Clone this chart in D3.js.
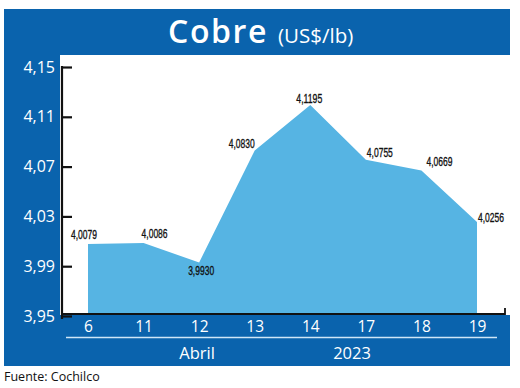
<!DOCTYPE html>
<html>
<head>
<meta charset="utf-8">
<script src="https://cdn.jsdelivr.net/npm/d3@7"></script>
<style>
  html, body { margin: 0; padding: 0; background: #fff; }
  svg { display: block; }
</style>
</head>
<body>
<svg id="chart" width="520" height="388"></svg>
<script>
// ---- data ----
const categories = ["6", "11", "12", "13", "14", "17", "18", "19"];
const values = [4.0079, 4.0086, 3.9930, 4.0830, 4.1195, 4.0755, 4.0669, 4.0256];
const valueLabels = ["4,0079", "4,0086", "3,9930", "4,0830", "4,1195", "4,0755", "4,0669", "4,0256"];
const yTicks = [3.95, 3.99, 4.03, 4.07, 4.11, 4.15];
const yTickLabels = ["3,95", "3,99", "4,03", "4,07", "4,11", "4,15"];
const periodLabels = ["Abril", "2023"];
const title = "Cobre";
const unit = "(US$/lb)";
const source = "Fuente: Cochilco";

// label placement (style only)
const labelPlace = [
  { anchor: "middle", dx: -4, dy: -5 },
  { anchor: "middle", dx: 11, dy: -5 },
  { anchor: "middle", dx: 2, dy: 13 },
  { anchor: "end", dx: 0, dy: -2 },
  { anchor: "middle", dx: -1, dy: -2 },
  { anchor: "start", dx: 1, dy: -3 },
  { anchor: "start", dx: 5, dy: -4 },
  { anchor: "start", dx: 1, dy: 0 }
];

const DARK = "#0a63ad";
const LIGHT = "#56b4e3";
const sans = "'Open Sans', 'Noto Sans', sans-serif";
const labelFont = "'Liberation Sans', Arial, sans-serif";

const svg = d3.select("#chart");

// frame
svg.append("rect").attr("x", 4).attr("y", 9).attr("width", 506).attr("height", 46).attr("fill", DARK);
svg.append("rect").attr("x", 4).attr("y", 55).attr("width", 56).attr("height", 311).attr("fill", DARK);
svg.append("rect").attr("x", 60).attr("y", 315).attr("width", 450).attr("height", 51).attr("fill", DARK);

// title
const t = svg.append("text").attr("x", 168).attr("y", 43).attr("text-anchor", "start")
  .attr("fill", "#fff").attr("font-family", sans);
t.append("tspan").attr("font-size", 32).attr("font-weight", 600).attr("letter-spacing", 1.6).text(title);
t.append("tspan").attr("font-size", 20.5).attr("dx", 10).attr("letter-spacing", 0).text(unit);

// scales
const x = d3.scalePoint().domain(categories).range([88, 477]);
const y = d3.scaleLinear().domain([3.95, 4.15]).range([316, 67]);
const baseY = 314;

// area
const area = d3.area()
  .x((d, i) => x(categories[i]))
  .y0(baseY)
  .y1(d => y(d));
svg.append("path").datum(values).attr("d", area).attr("fill", LIGHT);

// y axis
const yAxis = d3.axisRight(y).tickValues(yTicks).tickSize(10).tickFormat("");
const gy = svg.append("g").attr("transform", "translate(62,0)").call(yAxis);
gy.select(".domain").remove();
gy.selectAll(".tick line").attr("stroke", "#111").attr("stroke-width", 2.2);
svg.append("line").attr("x1", 62).attr("x2", 62).attr("y1", 66).attr("y2", 319)
  .attr("stroke", "#111").attr("stroke-width", 2.2);
svg.append("g").selectAll("text").data(yTicks).join("text")
  .attr("x", 55).attr("y", d => y(d) + 5.5)
  .attr("text-anchor", "end").attr("fill", "#fff")
  .attr("font-family", sans).attr("font-size", 16)
  .text((d, i) => yTickLabels[i]);

// x axis line
svg.append("path").attr("d", `M62,${baseY}H505V308`).attr("fill", "none")
  .attr("stroke", "#111").attr("stroke-width", 1.8);

// x labels
const xAxis = d3.axisBottom(x).tickSize(0).tickPadding(0);
const gx = svg.append("g").attr("transform", "translate(0,321)").call(xAxis);
gx.select(".domain").remove();
gx.selectAll("text").attr("fill", "#fff").attr("font-family", sans).attr("font-size", 15.5)
  .attr("dy", "0.71em").attr("y", 0);

// separator line
svg.append("line").attr("x1", 66).attr("x2", 497).attr("y1", 337.5).attr("y2", 337.5)
  .attr("stroke", "#cfe6f7").attr("stroke-width", 1.5);

// period labels
svg.append("g").selectAll("text").data(periodLabels).join("text")
  .attr("x", (d, i) => i === 0 ? x("12") - 2 : (x("14") + x("17")) / 2 + 14)
  .attr("y", 359).attr("text-anchor", "middle").attr("fill", "#fff")
  .attr("font-family", sans).attr("font-size", 16.5)
  .text(d => d);

// value labels
svg.append("g").selectAll("text").data(values).join("text")
  .attr("x", (d, i) => x(categories[i]) + labelPlace[i].dx)
  .attr("y", (d, i) => y(d) + labelPlace[i].dy)
  .attr("text-anchor", (d, i) => labelPlace[i].anchor)
  .attr("fill", "#111").attr("font-family", labelFont).attr("font-size", 13)
  .attr("stroke", "#111").attr("stroke-width", 0.35)
  .attr("textLength", 26).attr("lengthAdjust", "spacingAndGlyphs")
  .text((d, i) => valueLabels[i]);

// source
svg.append("text").attr("x", 4).attr("y", 381).attr("fill", "#111")
  .attr("font-family", sans).attr("font-size", 12.5).text(source);
</script>
</body>
</html>
